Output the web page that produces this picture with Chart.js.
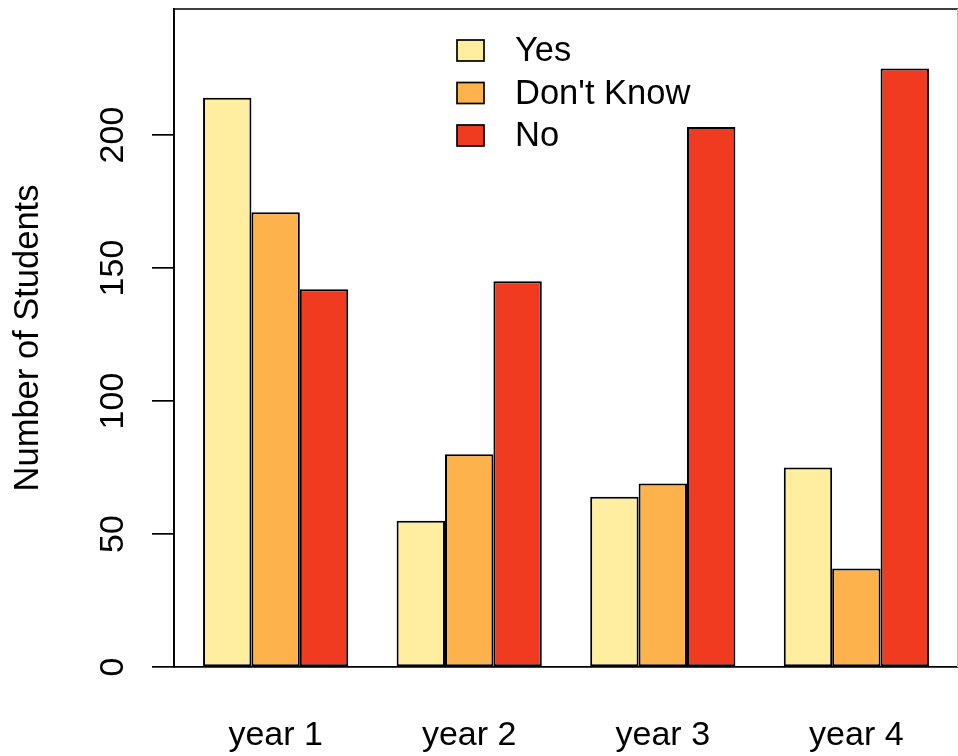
<!DOCTYPE html>
<html>
<head>
<meta charset="utf-8">
<script src="https://cdn.jsdelivr.net/npm/chart.js@4/dist/chart.umd.min.js"></script>
<style>
  body { margin: 0; background: #fff; }
  #wrap { width: 958px; height: 756px; position: relative; }
</style>
</head>
<body>
<div id="wrap"><canvas id="myChart"></canvas></div>
<script>
const years = ["year 1", "year 2", "year 3", "year 4"]
const yesVals = [214, 55, 64, 75]
const dontKnowVals = [171, 80, 69, 37]
const noVals = [142, 145, 203, 225]
const yTicks = [0, 50, 100, 150, 200]

const FONT = "'Liberation Sans', Arial, sans-serif"
Chart.defaults.font.family = FONT
Chart.defaults.font.size = 34
Chart.defaults.color = '#000'

// box round the plot, R style
const boxPlugin = {
    id: 'box',
    afterDraw(chart) {
        const a = chart.chartArea
        const ctx = chart.ctx
        ctx.save()
        ctx.strokeStyle = '#000'
        ctx.lineWidth = 1.7
        ctx.beginPath()
        ctx.moveTo(a.left, a.bottom)
        ctx.lineTo(a.left, a.top)
        ctx.lineTo(a.right, a.top)
        ctx.stroke()
        ctx.strokeStyle = '#bbb'
        ctx.lineWidth = 1
        ctx.beginPath()
        ctx.moveTo(a.right - 0.5, a.top)
        ctx.lineTo(a.right - 0.5, a.bottom)
        ctx.stroke()
        ctx.restore()
    }
}

// y tick labels are rotated in the original
const yLabelPlugin = {
    id: 'yLabels',
    afterDraw(chart) {
        const y = chart.scales.y
        const ctx = chart.ctx
        ctx.save()
        ctx.font = '34px ' + FONT
        ctx.fillStyle = '#000'
        ctx.textAlign = 'center'
        ctx.textBaseline = 'alphabetic'
        yTicks.forEach(v => {
            ctx.save()
            ctx.translate(123, y.getPixelForValue(v))
            ctx.rotate(-Math.PI / 2)
            ctx.fillText(String(v), 0, 0)
            ctx.restore()
        })
        ctx.restore()
    }
}

const legendPlugin = {
    id: 'rLegend',
    afterDraw(chart) {
        const ctx = chart.ctx
        const a = chart.chartArea
        const x0 = a.left + 283
        ctx.save()
        ctx.font = '34.5px ' + FONT
        ctx.textBaseline = 'middle'
        ctx.textAlign = 'left'
        chart.data.datasets.forEach((ds, i) => {
            const cy = a.top + 41.5 + i * 42.5
            ctx.fillStyle = ds.backgroundColor
            ctx.fillRect(x0, cy - 10.5, 27, 21)
            ctx.strokeStyle = '#000'
            ctx.lineWidth = 1.7
            ctx.strokeRect(x0, cy - 10.5, 27, 21)
            ctx.fillStyle = '#000'
            ctx.fillText(ds.label, x0 + 58, cy + 1)
        })
        ctx.restore()
    }
}

const ctx = document.getElementById('myChart')
let myChart = new Chart(ctx, {
    type: 'bar',
    data: {
        labels: years,
        datasets: [{
            label: 'Yes',
            data: yesVals,
            backgroundColor: '#FFEDA0'
        }, {
            label: "Don't Know",
            data: dontKnowVals,
            backgroundColor: '#FEB24C'
        }, {
            label: 'No',
            data: noVals,
            backgroundColor: '#F03B20'
        }]
    },
    options: {
        responsive: true,
        maintainAspectRatio: false,
        animation: false,
        layout: { padding: { top: 9, right: 0, left: 0, bottom: 0 } },
        datasets: {
            bar: {
                borderColor: '#000',
                borderWidth: 2,
                borderSkipped: false,
                categoryPercentage: 0.75,
                barPercentage: 1
            }
        },
        plugins: {
            legend: { display: false },
            tooltip: { enabled: false }
        },
        scales: {
            x: {
                grid: { display: false, drawTicks: false },
                border: { display: true, color: '#000', width: 1.7 },
                ticks: { padding: 48, font: { size: 34 } },
                afterBuildTicks(scale) {
                    // R barplot extends xlim by 4%: 0.1 bar width each side beyond half-group
                    scale._startValue = -0.525
                    scale._valueRange = 4.05
                },
                afterFit(scale) { scale.height = 89 }
            },
            y: {
                min: 0,
                max: 247.4,
                ticks: { stepSize: 50, includeBounds: false, display: false },
                grid: { drawOnChartArea: false, tickLength: 22, color: '#000', lineWidth: 1.7 },
                border: { display: true, color: '#000', width: 1.7 },
                title: {
                    display: true,
                    text: 'Number of Students',
                    font: { size: 34.5 },
                    padding: { top: 8, bottom: 0 }
                },
                afterFit(scale) { scale.width = 174 }
            }
        }
    },
    plugins: [boxPlugin, yLabelPlugin, legendPlugin]
})
</script>
</body>
</html>
